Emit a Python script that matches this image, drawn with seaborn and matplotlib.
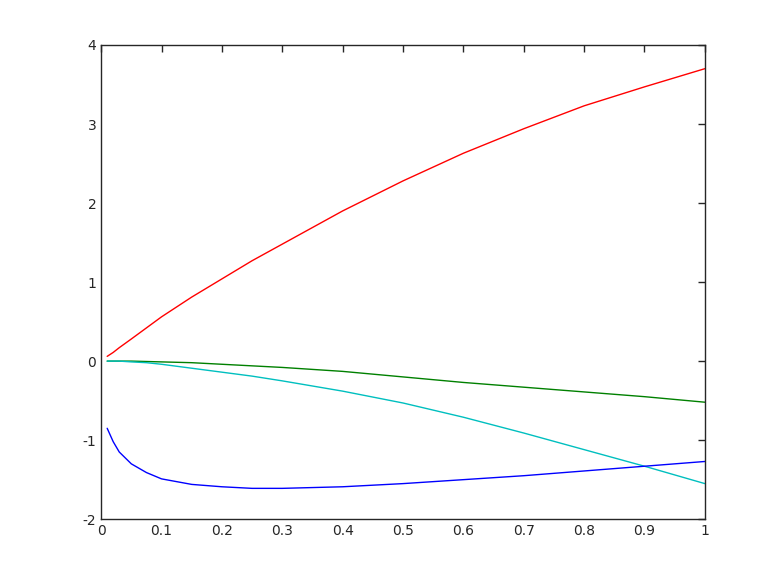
import numpy as np
import pandas as pd
import matplotlib
matplotlib.use("Agg")
import matplotlib.pyplot as plt
import seaborn as sns

# values
x = [0.01, 0.02, 0.03, 0.05, 0.075, 0.1, 0.15, 0.2, 0.25, 0.3, 0.4, 0.5, 0.6, 0.7, 0.8, 0.9, 1.0]
red = [0.06, 0.11, 0.17, 0.28, 0.42, 0.56, 0.81, 1.04, 1.27, 1.48, 1.90, 2.28, 2.63, 2.94, 3.23, 3.47, 3.70]
green = [0.0, 0.0, 0.0, 0.0, -0.005, -0.01, -0.02, -0.04, -0.06, -0.08, -0.13, -0.20, -0.27, -0.33, -0.39, -0.45, -0.52]
cyan = [0.0, 0.0, 0.0, -0.01, -0.02, -0.04, -0.09, -0.14, -0.19, -0.25, -0.38, -0.53, -0.71, -0.91, -1.12, -1.33, -1.55]
blue = [-0.85, -1.02, -1.15, -1.30, -1.41, -1.49, -1.56, -1.59, -1.61, -1.61, -1.59, -1.55, -1.50, -1.45, -1.39, -1.33, -1.27]

series = {"red": red, "green": green, "cyan": cyan, "blue": blue}
colors = {"red": "#ff0000", "green": "#008000", "cyan": "#00bfbf", "blue": "#0000ff"}

df = pd.DataFrame({"x": x, **series}).melt(id_vars="x", var_name="series", value_name="y")

sns.set_style("white")
plt.rcParams["font.family"] = ["DejaVu Sans"]
plt.rcParams["axes.unicode_minus"] = False

fig = plt.figure(figsize=(7.78, 5.84), dpi=100)
ax = fig.add_axes([0.13, 0.111, 0.776, 0.812])
sns.lineplot(data=df, x="x", y="y", hue="series", palette=colors,
             hue_order=["red", "green", "cyan", "blue"], linewidth=1.0,
             legend=False, ax=ax)

ax.set_xlim(0, 1)
ax.set_ylim(-2, 4)
ax.set_xticks(np.arange(0, 1.01, 0.1))
ax.set_xticklabels(["0", "0.1", "0.2", "0.3", "0.4", "0.5", "0.6", "0.7", "0.8", "0.9", "1"])
ax.set_yticks(range(-2, 5))
ax.set_xlabel("")
ax.set_ylabel("")
ax.tick_params(direction="in", top=True, right=True, length=5, width=1,
               labelsize=10, colors="#262626")
for s in ax.spines.values():
    s.set_visible(True)
    s.set_color("#262626")
    s.set_linewidth(1)

fig.savefig("out.png", dpi=100)
